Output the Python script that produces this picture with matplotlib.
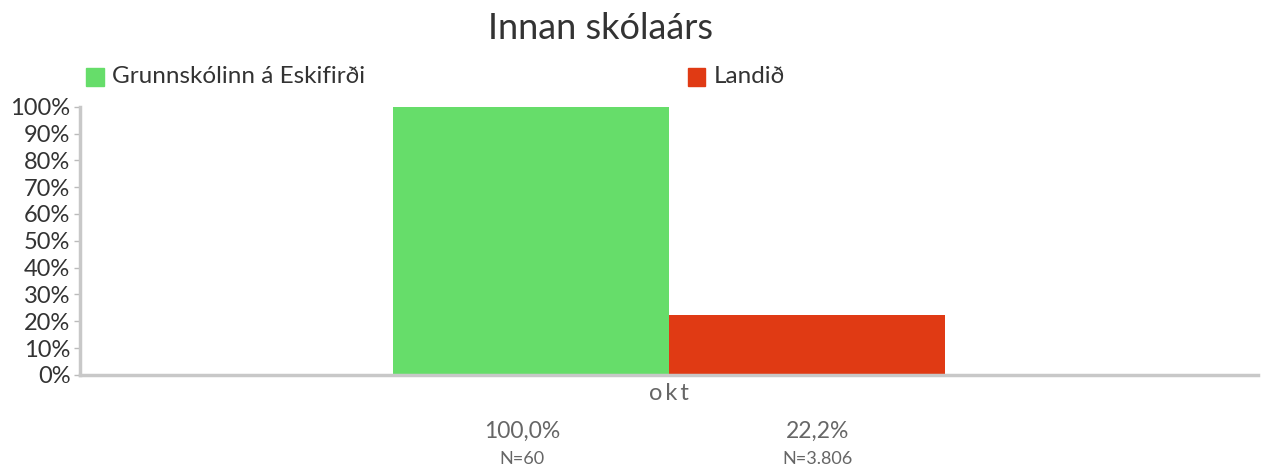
import matplotlib.pyplot as plt
import numpy as np
from matplotlib.patches import Rectangle

title = "Innan skólaárs"
category = "okt"
series_names = ["Grunnskólinn á Eskifirði", "Landið"]
values = [100.0, 22.2]
counts = ["N=60", "N=3.806"]
colors = ["#66dd6a", "#e03a14"]

plt.rcParams['font.family'] = ['Lato', 'DejaVu Sans']

fig = plt.figure(figsize=(12.72, 4.68), dpi=100)
ax = fig.add_axes([0.063, 0.199, 0.926, 0.573])

width = 0.234
offsets = [-width / 2, width / 2]
for name, val, col, off in zip(series_names, values, colors, offsets):
	ax.bar(0 + off, val, width=width, color=col, label=name, zorder=2)

ax.set_xlim(-0.5, 0.5)
ax.set_ylim(0, 100)
ax.set_yticks(np.arange(0, 101, 10))
ax.set_yticklabels([f"{t}%" for t in range(0, 101, 10)], fontsize=17, color="#333333")
ax.set_xticks([0])
ax.set_xticklabels(["o\u2009k\u2009t"], fontsize=17, color="#666666")
ax.tick_params(axis='x', length=0, pad=6)
ax.tick_params(axis='y', length=4, width=1, color="#bbbbbb", pad=3)

for s in ['top', 'right']:
	ax.spines[s].set_visible(False)
for s in ['left', 'bottom']:
	ax.spines[s].set_color("#c8c8c8")
	ax.spines[s].set_linewidth(2.5)

# value / count labels under the category
for val, n, xo in zip(values, counts, [-0.125, 0.126]):
	ax.text(xo, -21, f"{val:.1f}%".replace('.', ','), transform=ax.transData,
		ha='center', va='center', fontsize=16.5, color="#666666", clip_on=False)
	ax.text(xo, -31.5, n, transform=ax.transData,
		ha='center', va='center', fontsize=13, color="#666666", clip_on=False)

fig.text(0.472, 0.94, title, ha='center', va='center', fontsize=26, color="#333333")

# legend entries placed manually like the original
leg_x = [0.068, 0.541]
for name, col, lx in zip(series_names, colors, leg_x):
	fig.patches.append(Rectangle((lx, 0.817), 0.0135, 0.038, transform=fig.transFigure,
		color=col, figure=fig))
	fig.text(lx + 0.02, 0.836, name, ha='left', va='center', fontsize=17.5, color="#333333")

fig.savefig("out.png", dpi=100)
